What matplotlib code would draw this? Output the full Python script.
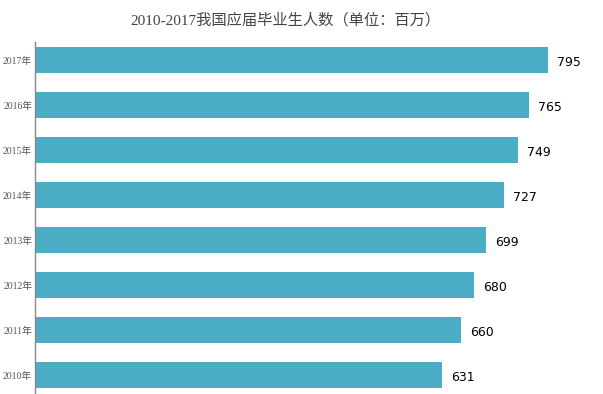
import matplotlib
matplotlib.use("Agg")
import matplotlib.pyplot as plt

years = ["2010年", "2011年", "2012年", "2013年", "2014年", "2015年", "2016年", "2017年"]
values = [631, 660, 680, 699, 727, 749, 765, 795]

fig = plt.figure(figsize=(6.03, 3.94), dpi=100)
ax = fig.add_axes([35 / 603, 0, 1 - 35 / 603, 352 / 394])

pos = list(range(len(years)))
ax.barh(pos, values, height=0.56, color="#4BACC6")
for p, v in zip(pos, values):
    ax.text(v + 14, p - 0.05, str(v), va="center", ha="left", fontsize=9,
            family=["DejaVu Sans"], color="black")

ax.set_xlim(0, 880)
ax.set_ylim(-0.42, 7.4)
ax.set_yticks(pos)
ax.set_yticklabels(years, family=["Liberation Serif", "Noto Sans CJK SC"],
                   fontsize=7, color="#555555")
ax.tick_params(axis="y", length=0, pad=2)
ax.set_xticks([])
for s in ["top", "right", "bottom"]:
    ax.spines[s].set_visible(False)
ax.spines["left"].set_color("#888888")
ax.spines["left"].set_linewidth(1)

fig.text(285 / 603, 1 - 20 / 394, "2010-2017我国应届毕业生人数（单位：百万）",
         ha="center", va="center", fontsize=11, color="#444444",
         family=["Liberation Serif", "Noto Sans CJK SC"])

fig.savefig("out.png", dpi=100)
